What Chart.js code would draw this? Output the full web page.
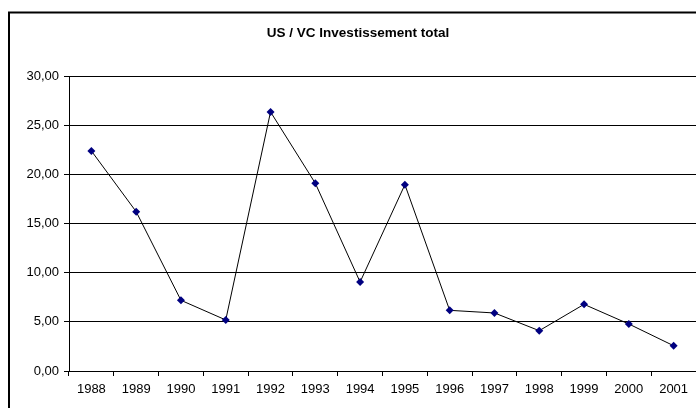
<!DOCTYPE html>
<html>
<head>
<meta charset="utf-8">
<script src="https://cdn.jsdelivr.net/npm/chart.js@4/dist/chart.umd.min.js"></script>
<style>
  html, body { margin: 0; padding: 0; background: #fff; overflow: hidden; }
  #wrap { width: 696px; height: 408px; position: relative; overflow: hidden; }
  canvas { display: block; }
</style>
</head>
<body>
<div id="wrap"><canvas id="c" width="696" height="408"></canvas></div>
<script>
const titleText = "US / VC Investissement total";
const years = ["1988","1989","1990","1991","1992","1993","1994","1995","1996","1997","1998","1999","2000","2001"];
const investment = [22.38, 16.2, 7.19, 5.19, 26.35, 19.09, 9.05, 18.95, 6.17, 5.9, 4.1, 6.78, 4.78, 2.57];
const yMin = 0, yMax = 30, yStep = 5;

// Chart frame (extends beyond the visible picture on the right and bottom) and title
const frame = {
  id: 'frame',
  beforeDraw(chart) {
    const ctx = chart.ctx;
    ctx.save();
    ctx.fillStyle = '#fff';
    ctx.fillRect(0, 0, chart.width, chart.height);
    ctx.strokeStyle = '#000';
    ctx.lineWidth = 2;
    ctx.beginPath();
    ctx.moveTo(9, chart.height + 5);
    ctx.lineTo(9, 12.5);
    ctx.lineTo(chart.width + 5, 12.5);
    ctx.stroke();
    ctx.fillStyle = '#000';
    ctx.font = 'bold 13.5px "Liberation Sans", Arial, sans-serif';
    ctx.textAlign = 'center';
    ctx.textBaseline = 'alphabetic';
    ctx.fillText(titleText, 358, 37.3);
    ctx.restore();
  }
};

new Chart(document.getElementById('c'), {
  type: 'line',
  data: {
    labels: years,
    datasets: [{
      data: investment,
      borderColor: '#000',
      borderWidth: 1,
      pointStyle: 'rectRot',
      pointRadius: 4,
      pointBackgroundColor: '#000080',
      pointBorderColor: '#000080',
      pointBorderWidth: 0,
      tension: 0,
      fill: false,
      clip: false
    }]
  },
  plugins: [frame],
  options: {
    responsive: false,
    maintainAspectRatio: false,
    animation: false,
    devicePixelRatio: 1,
    layout: { autoPadding: false, padding: { left: 0, right: 0, top: 76, bottom: 0 } },
    plugins: {
      legend: { display: false },
      tooltip: { enabled: false },
      title: { display: false }
    },
    scales: {
      x: {
        type: 'category',
        offset: true,
        grid: { offset: true, drawOnChartArea: false, drawTicks: true, tickLength: 5, color: '#000' },
        border: { color: '#000', width: 1 },
        ticks: {
          color: '#000',
          font: { family: '"Liberation Sans", Arial, sans-serif', size: 13 },
          padding: 6,
          maxRotation: 0,
          autoSkip: false
        },
        afterFit(s) { s.height = 37; s.paddingLeft = 0; s.paddingRight = 0; }
      },
      y: {
        min: yMin, max: yMax,
        grid: { color: '#000', lineWidth: 1, tickLength: 5 },
        border: { color: '#000', width: 1 },
        ticks: {
          stepSize: yStep,
          color: '#000',
          font: { family: '"Liberation Sans", Arial, sans-serif', size: 13 },
          padding: 5,
          callback: v => v.toFixed(2).replace('.', ',')
        },
        afterFit(s) { s.width = 69; }
      }
    }
  }
});
</script>
</body>
</html>
